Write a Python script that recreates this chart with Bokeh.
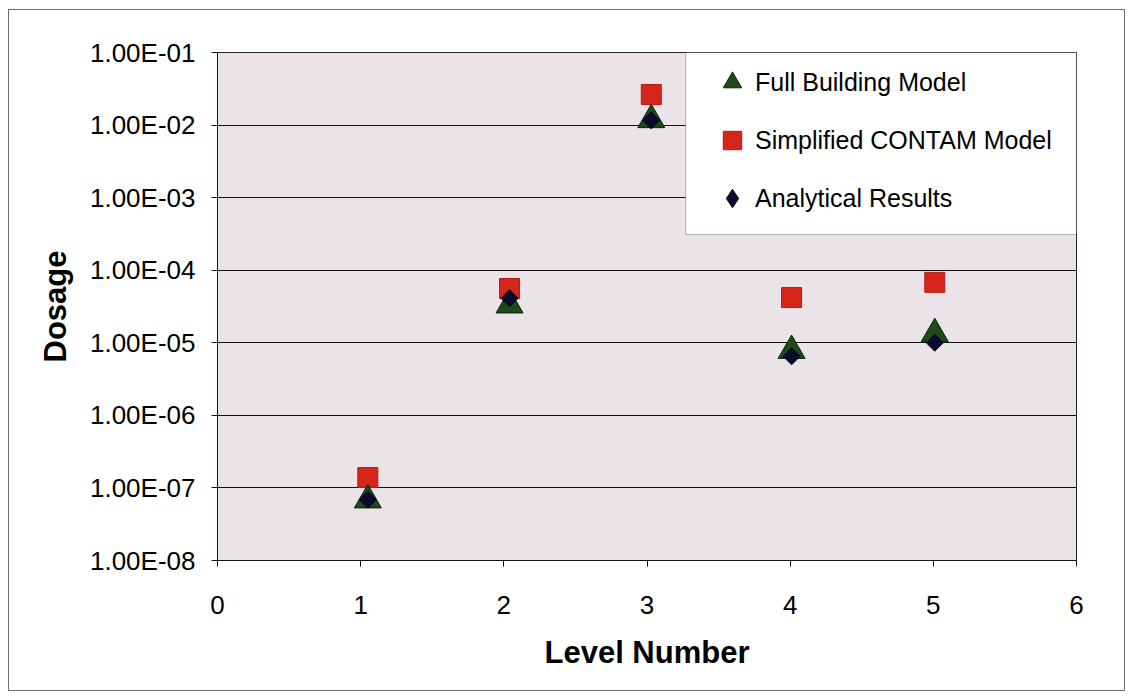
import math
from bokeh.plotting import figure
from bokeh.models import (FixedTicker, Range1d, CustomJSTickFormatter, Legend, LegendItem,
                          BoxAnnotation)
from bokeh.embed import file_html
from bokeh.resources import INLINE

# ---- data ----
levels = [1.05, 2.04, 3.03, 4.01, 5.01]
full_building = [6.8e-8, 3.3e-5, 1.18e-2, 7.8e-6, 1.33e-5]
simplified = [1.39e-7, 5.6e-5, 2.64e-2, 4.2e-5, 6.8e-5]
analytical = [6.9e-8, 4.1e-5, 1.16e-2, 6.5e-6, 1.0e-5]

x_ticks = [0, 1, 2, 3, 4, 5, 6]
y_ticks = [1e-8, 1e-7, 1e-6, 1e-5, 1e-4, 1e-3, 1e-2, 1e-1]
series_names = ["Full Building Model", "Simplified CONTAM Model", "Analytical Results"]

FONT = "Liberation Sans"

p = figure(width=1117, height=682, output_backend="svg", toolbar_location=None,
           y_axis_type="log",
           x_range=Range1d(0, 6), y_range=Range1d(y_ticks[0], y_ticks[-1]),
           min_border_left=208, min_border_right=50, min_border_top=42, min_border_bottom=132)
p.styles = {"margin-left": "8px", "margin-top": "9px",
            "border": "1px solid #6b6b6b", "box-sizing": "border-box"}

p.background_fill_color = "#eae4e9"
p.border_fill_color = "white"
p.outline_line_color = "#222222"
p.outline_line_width = 1

p.xgrid.grid_line_color = None
p.ygrid.grid_line_color = "#111111"
p.ygrid.grid_line_width = 1
p.ygrid.minor_grid_line_color = None

p.xaxis.ticker = FixedTicker(ticks=x_ticks)
p.yaxis.ticker = FixedTicker(ticks=y_ticks, minor_ticks=[])
p.yaxis.formatter = CustomJSTickFormatter(code="""
    const e = Math.round(Math.log10(tick));
    const a = Math.abs(e);
    return '1.00E' + (e < 0 ? '-' : '+') + (a < 10 ? '0' : '') + a;
""")

for ax in (p.xaxis, p.yaxis):
    ax.axis_line_color = "#111111"
    ax.major_tick_line_color = "#111111"
    ax.major_tick_out = 6
    ax.major_tick_in = 0
    ax.minor_tick_line_color = None
    ax.major_label_text_font = FONT
    ax.major_label_text_font_size = "26px"
    ax.major_label_text_color = "black"
    ax.axis_label_text_font = FONT
    ax.axis_label_text_font_style = "bold"
    ax.axis_label_text_font_size = "31px"
    ax.axis_label_text_color = "black"

p.xaxis.axis_label = "Level Number"
p.yaxis.axis_label = "Dosage"
p.xaxis.major_label_standoff = 29
p.xaxis.axis_label_standoff = 18
p.yaxis.major_label_standoff = 16
p.yaxis.axis_label_standoff = 14

# legend background box (white) covering grid
box = BoxAnnotation(left=3.27, right=6, top=1e-1, bottom=3.1e-4,
                    fill_color="white", fill_alpha=1.0,
                    line_color="#222222", line_width=1, level="annotation")
p.add_layout(box)

r_sq = p.scatter(levels, simplified, marker="square", size=20,
                 fill_color="#d6261c", line_color="#b01c14", line_width=1)
r_tri = p.scatter(levels, full_building, marker="triangle", size=27,
                  fill_color="#1f4a17", line_color="#0d200a", line_width=1)
r_dia = p.scatter(levels, analytical, marker="square", angle=math.pi / 4, size=12,
                  fill_color="#0b0b2c", line_color="#05051a", line_width=1)
# legend-only diamond (not drawn in the plot: NaN position)
r_dia_key = p.scatter([float("nan")], [float("nan")], marker="diamond", size=20,
                      fill_color="#0b0b2c", line_color="#05051a", line_width=1)

legend = Legend(items=[LegendItem(label=series_names[0], renderers=[r_tri]),
                       LegendItem(label=series_names[1], renderers=[r_sq]),
                       LegendItem(label=series_names[2], renderers=[r_dia_key])],
                location=(492, 339),
                glyph_width=46, glyph_height=46, label_standoff=0,
                spacing=12, padding=12, margin=0,
                background_fill_alpha=0, border_line_color=None,
                label_text_font=FONT, label_text_font_size="25px",
                label_text_color="black")
p.add_layout(legend)

open("out.html", "w").write(file_html(p, INLINE))
